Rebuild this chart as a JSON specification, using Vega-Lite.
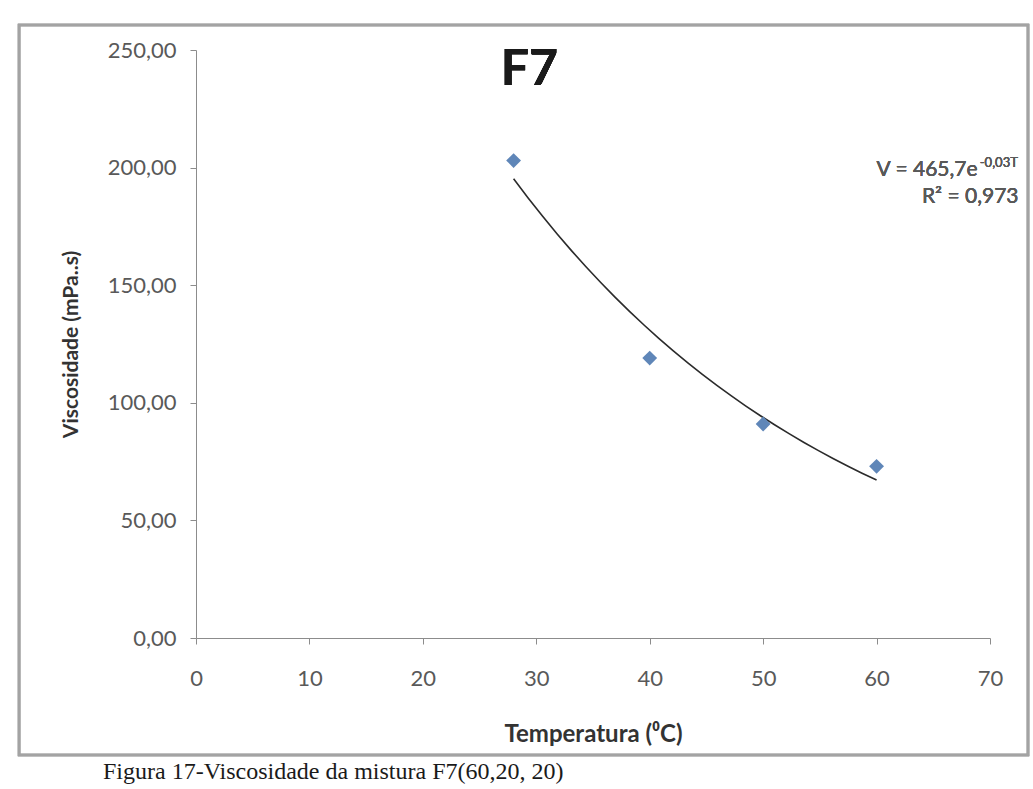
{
  "$schema": "https://vega.github.io/schema/vega-lite/v6.json",
  "width": 794,
  "height": 588,
  "autosize": {"type": "none"},
  "padding": {"left": 196, "top": 50, "right": 43, "bottom": 151},
  "background": "white",
  "config": {
    "view": {"stroke": null},
    "font": "Lato",
    "axis": {"grid": false, "domainColor": "#8c8c8c", "tickColor": "#8c8c8c", "labelColor": "#595959", "labelFont": "Lato", "labelFontSize": 22, "titleFont": "Lato", "titleFontWeight": "bold", "titleColor": "#333333", "tickSize": 6}
  },
  "title": {
    "text": "Figura 17-Viscosidade da mistura F7(60,20, 20)",
    "orient": "bottom",
    "anchor": "start",
    "frame": "group",
    "font": "Liberation Serif",
    "fontSize": 24,
    "fontWeight": "normal",
    "color": "#1a1a1a",
    "dx": -93,
    "offset": 4
  },
  "data": {
    "values": [
      {"T": 28, "V": 203},
      {"T": 40, "V": 119},
      {"T": 50, "V": 91},
      {"T": 60, "V": 73}
    ]
  },
  "layer": [
    {
      "mark": {"type": "rect", "fill": null, "stroke": "#a3a3a3", "strokeWidth": 2.5},
      "encoding": {
        "x": {"datum": -15.6, "type": "quantitative", "scale": {"domain": [0, 70]}},
        "x2": {"datum": 73.35},
        "y": {"datum": 260.6, "type": "quantitative", "scale": {"domain": [0, 250]}},
        "y2": {"datum": -49.7}
      }
    },
    {
      "mark": {"type": "line", "color": "#2b2b2b", "strokeWidth": 1.6},
      "transform": [{"regression": "V", "on": "T", "method": "exp"}],
      "encoding": {
        "x": {"field": "T", "type": "quantitative"},
        "y": {"field": "V", "type": "quantitative"}
      }
    },
    {
      "mark": {"type": "point", "shape": "diamond", "filled": true, "size": 220, "color": "#5f86b8", "opacity": 1},
      "encoding": {
        "x": {
          "field": "T", "type": "quantitative",
          "scale": {"domain": [0, 70], "nice": false, "zero": true},
          "axis": {"values": [0, 10, 20, 30, 40, 50, 60, 70], "title": "Temperatura (⁰C)", "titleFontSize": 24, "labelPadding": 24, "titlePadding": 33, "labelFlush": false}
        },
        "y": {
          "field": "V", "type": "quantitative",
          "scale": {"domain": [0, 250], "nice": false},
          "axis": {"values": [0, 50, 100, 150, 200, 250], "title": "Viscosidade (mPa..s)", "titleFontSize": 21, "labelPadding": 14, "titlePadding": 26, "labelExpr": "replace(format(datum.value, '.2f'), '.', ',')", "labelFlush": false}
        }
      }
    },
    {
      "mark": {"type": "text", "text": "F7", "font": "Lato", "fontSize": 50, "fontWeight": "bold", "color": "#1a1a1a", "align": "center", "baseline": "middle"},
      "encoding": {"x": {"datum": 29.4}, "y": {"datum": 241.5}}
    },
    {
      "mark": {"type": "text", "text": "V = 465,7e", "font": "Lato", "fontSize": 21, "fontWeight": "normal", "color": "#595959", "align": "left", "baseline": "middle"},
      "encoding": {"x": {"datum": 60.0}, "y": {"datum": 199}}
    },
    {
      "mark": {"type": "text", "text": "-0,03T", "font": "Lato", "fontSize": 13, "fontWeight": "normal", "color": "#595959", "align": "left", "baseline": "middle"},
      "encoding": {"x": {"datum": 69.1}, "y": {"datum": 201.8}}
    },
    {
      "mark": {"type": "text", "text": "R² = 0,973", "font": "Lato", "fontSize": 21, "fontWeight": "normal", "color": "#595959", "align": "left", "baseline": "middle"},
      "encoding": {"x": {"datum": 64.0}, "y": {"datum": 187.5}}
    }
  ]
}
